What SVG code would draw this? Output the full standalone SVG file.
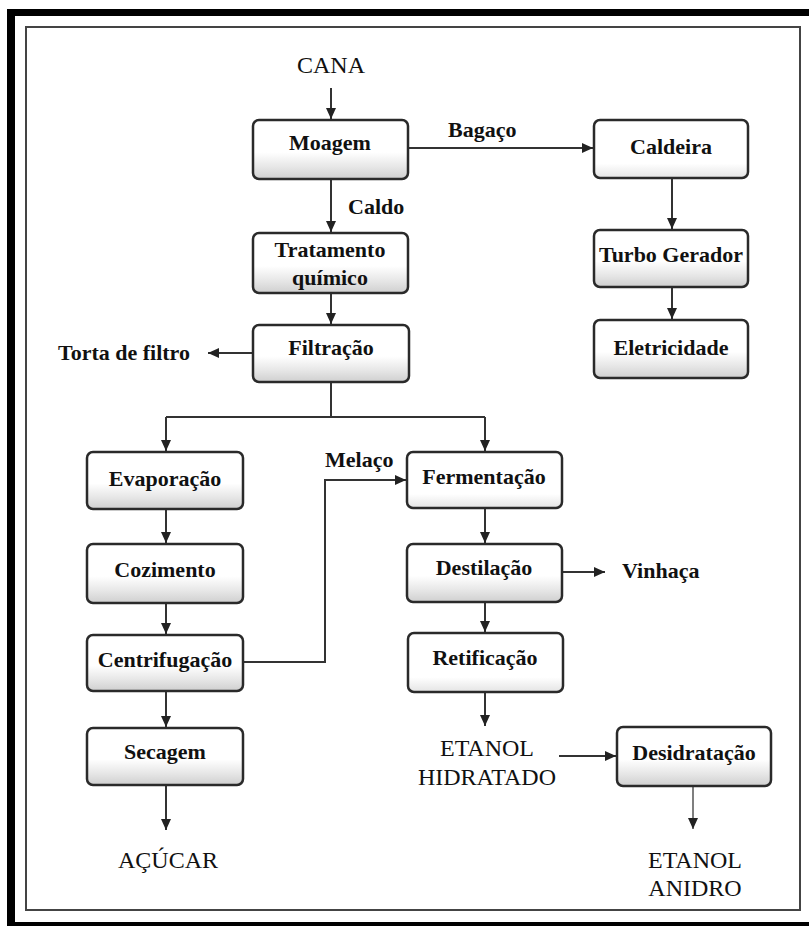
<svg xmlns="http://www.w3.org/2000/svg" width="809" height="926" viewBox="0 0 809 926">
<style>
.box{stroke:#2a2a2a;stroke-width:2.5;fill:url(#g)}
.wbox{stroke:#2a2a2a;stroke-width:2.5;fill:url(#gw)}
.t{font-family:"Liberation Serif","Times New Roman",serif;font-size:22px;font-weight:bold;fill:#111;text-anchor:middle}
.l{font-family:"Liberation Serif","Times New Roman",serif;font-size:22px;font-weight:bold;fill:#111}
.c{font-family:"Liberation Serif","Times New Roman",serif;font-size:24px;fill:#111;text-anchor:middle}
.e{fill:none;stroke:#333;stroke-width:2}
</style>
<defs>
<linearGradient id="g" x1="0" y1="0" x2="0" y2="1">
<stop offset="0" stop-color="#ffffff"/>
<stop offset="0.55" stop-color="#ffffff"/>
<stop offset="0.8" stop-color="#e6e6e6"/>
<stop offset="1" stop-color="#cfcfcf"/>
</linearGradient>
<linearGradient id="gw" x1="0" y1="0" x2="0" y2="1">
<stop offset="0" stop-color="#ffffff"/>
<stop offset="0.75" stop-color="#ffffff"/>
<stop offset="1" stop-color="#e4e4e4"/>
</linearGradient>
<marker id="a" markerUnits="userSpaceOnUse" markerWidth="12" markerHeight="10" refX="11" refY="5" orient="auto">
<path d="M0,0 L11,5 L0,10 z" fill="#222"/>
</marker>
</defs>
<rect width="809" height="926" fill="#fff"/>
<g id="frame">
<rect x="7" y="9" width="810" height="7" fill="#000"/>
<rect x="7" y="9" width="8" height="917" fill="#000"/>
<rect x="7" y="922" width="810" height="4" fill="#000"/>
<rect x="26" y="27" width="774" height="883" fill="none" stroke="#444" stroke-width="2"/>
</g>
<g id="connectors">
<path class="e" d="M331,88 V119" marker-end="url(#a)"/>
<path class="e" d="M331,179 V232" marker-end="url(#a)"/>
<path class="e" d="M408,148 H593" marker-end="url(#a)"/>
<path class="e" d="M672,178 V229" marker-end="url(#a)"/>
<path class="e" d="M672,287 V319" marker-end="url(#a)"/>
<path class="e" d="M331,293 V324" marker-end="url(#a)"/>
<path class="e" d="M253,353 H208" marker-end="url(#a)"/>
<path class="e" d="M331,382 V417"/>
<path class="e" d="M166,417 H485"/>
<path class="e" d="M166,417 V451" marker-end="url(#a)"/>
<path class="e" d="M485,417 V451" marker-end="url(#a)"/>
<path class="e" d="M166,509 V543" marker-end="url(#a)"/>
<path class="e" d="M166,603 V634" marker-end="url(#a)"/>
<path class="e" d="M166,691 V727" marker-end="url(#a)"/>
<path class="e" d="M166,785 V830" marker-end="url(#a)"/>
<path class="e" d="M243,662 H325 V480 H406" marker-end="url(#a)"/>
<path class="e" d="M485,508 V543" marker-end="url(#a)"/>
<path class="e" d="M562,572 H605" marker-end="url(#a)"/>
<path class="e" d="M485,602 V632" marker-end="url(#a)"/>
<path class="e" d="M485,692 V726" marker-end="url(#a)"/>
<path class="e" d="M559,756 H616" marker-end="url(#a)"/>
<path class="e" d="M693,786 V829" marker-end="url(#a)" style="stroke:#555;stroke-width:1.5"/>
</g>
<g id="labels">
<text class="c" x="331" y="73">CANA</text>
<text class="l" x="448" y="137">Bagaço</text>
<text class="l" x="348" y="214">Caldo</text>
<text class="l" x="58" y="360">Torta de filtro</text>
<text class="l" x="325" y="467">Melaço</text>
<text class="l" x="622" y="578">Vinhaça</text>
<text class="c" x="168" y="868">AÇÚCAR</text>
<text class="c" x="487" y="756">ETANOL</text>
<text class="c" x="487" y="785">HIDRATADO</text>
<text class="c" x="695" y="868">ETANOL</text>
<text class="c" x="695" y="896">ANIDRO</text>
</g>
<g id="moagem"><rect class="box" x="253" y="120" width="155" height="59" rx="6"/><text class="t" x="330" y="150">Moagem</text></g>
<g id="tratamento"><rect class="box" x="253" y="233" width="155" height="60" rx="6"/><text class="t" x="330" y="257">Tratamento</text><text class="t" x="330" y="285">químico</text></g>
<g id="filtracao"><rect class="box" x="253" y="325" width="156" height="57" rx="6"/><text class="t" x="331" y="355">Filtração</text></g>
<g id="caldeira"><rect class="wbox" x="594" y="120" width="154" height="58" rx="6"/><text class="t" x="671" y="154">Caldeira</text></g>
<g id="turbo"><rect class="box" x="594" y="230" width="154" height="57" rx="6"/><text class="t" x="671" y="262">Turbo Gerador</text></g>
<g id="eletricidade"><rect class="box" x="594" y="320" width="154" height="58" rx="6"/><text class="t" x="671" y="355">Eletricidade</text></g>
<g id="evaporacao"><rect class="box" x="87" y="452" width="156" height="57" rx="6"/><text class="t" x="165" y="486">Evaporação</text></g>
<g id="cozimento"><rect class="box" x="87" y="544" width="156" height="59" rx="6"/><text class="t" x="165" y="577">Cozimento</text></g>
<g id="centrifugacao"><rect class="box" x="87" y="635" width="156" height="56" rx="6"/><text class="t" x="165" y="667">Centrifugação</text></g>
<g id="secagem"><rect class="box" x="87" y="728" width="156" height="57" rx="6"/><text class="t" x="165" y="759">Secagem</text></g>
<g id="fermentacao"><rect class="wbox" x="407" y="452" width="155" height="56" rx="6"/><text class="t" x="484" y="484">Fermentação</text></g>
<g id="destilacao"><rect class="box" x="407" y="544" width="155" height="58" rx="6"/><text class="t" x="484" y="575">Destilação</text></g>
<g id="retificacao"><rect class="wbox" x="408" y="633" width="155" height="59" rx="6"/><text class="t" x="485" y="665">Retificação</text></g>
<g id="desidratacao"><rect class="box" x="617" y="727" width="154" height="59" rx="6"/><text class="t" x="694" y="760">Desidratação</text></g>
</svg>
